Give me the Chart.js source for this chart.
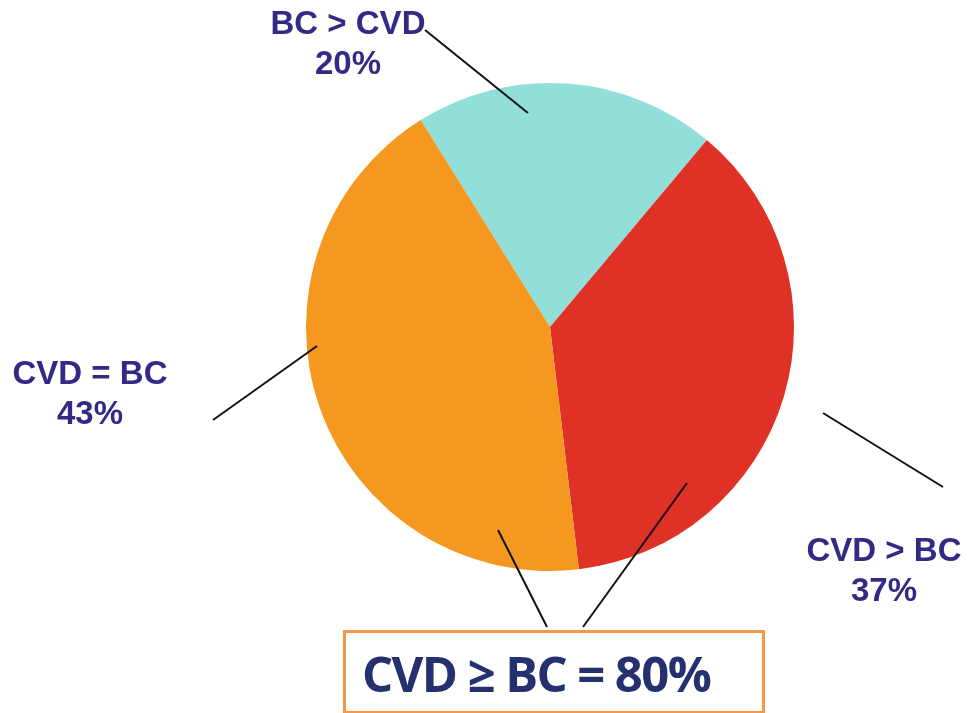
<!DOCTYPE html>
<html>
<head>
<meta charset="utf-8">
<script src="https://cdn.jsdelivr.net/npm/chart.js@4.4.1/dist/chart.umd.min.js"></script>
<style>
  html, body { margin: 0; padding: 0; background: #fff; }
  #wrap { position: relative; width: 974px; height: 713px; overflow: hidden; }
  #chart { position: absolute; left: 0; top: 0; }
  .lbl { position: absolute; width: 240px; margin-left: -120px; text-align: center;
         font-family: "Liberation Sans", Arial, sans-serif; font-weight: bold;
         font-size: 33px; line-height: 40px; color: #332a86; }
  #box { position: absolute; left: 343px; top: 630px; width: 416px; height: 78px;
         border: 3px solid #f79646; box-sizing: content-box; }
  #box span { position: absolute; left: 16px; top: 5px; white-space: nowrap;
              font-family: "Open Sans", sans-serif; font-weight: bold; font-size: 49px;
              letter-spacing: -1.6px; line-height: 70px; color: #25306f; }
</style>
</head>
<body>
<div id="wrap">
  <canvas id="chart" width="974" height="713"></canvas>
  <div class="lbl" style="left:348px; top:3px;">BC &gt; CVD<br>20%</div>
  <div class="lbl" style="left:90px; top:353px;">CVD = BC<br>43%</div>
  <div class="lbl" style="left:884px; top:530px;">CVD &gt; BC<br>37%</div>
  <div id="box"><span>CVD ≥ BC = 80%</span></div>
</div>
<script>
var categories = ['BC > CVD', 'CVD > BC', 'CVD = BC'];
var shares = [20, 37, 43];
var sliceColors = ['#92dfd9', '#df3125', '#f49820'];

// leader lines, as pixel offsets from the pie centre
var leaders = [
  [[-125, -297], [-22, -214]],
  [[393, 160], [273, 86]],
  [[-337, 93], [-233, 19]],
  [[-3, 300], [-52, 203]],
  [[33, 300], [137, 156]]
];

var leaderPlugin = {
  id: 'leaders',
  afterDraw: function(chart) {
    var arc = chart.getDatasetMeta(0).data[0];
    var cx = arc.x, cy = arc.y;
    var ctx = chart.ctx;
    ctx.save();
    ctx.strokeStyle = '#111';
    ctx.lineWidth = 2;
    leaders.forEach(function(l) {
      ctx.beginPath();
      ctx.moveTo(cx + l[0][0], cy + l[0][1]);
      ctx.lineTo(cx + l[1][0], cy + l[1][1]);
      ctx.stroke();
    });
    ctx.restore();
  }
};

var config = {
  type: 'pie',
  data: {
    labels: categories,
    datasets: [{
      data: shares,
      backgroundColor: sliceColors,
      borderWidth: 0
    }]
  },
  options: {
    responsive: false,
    animation: false,
    rotation: -32,
    layout: { padding: { left: 306, right: 180, top: 83, bottom: 142 } },
    plugins: {
      legend: { display: false },
      tooltip: { enabled: false }
    }
  },
  plugins: [leaderPlugin]
};

window.onload = function() {
  var ctx = document.getElementById('chart').getContext('2d');
  window.myPie = new Chart(ctx, config);
};
</script>
</body>
</html>
